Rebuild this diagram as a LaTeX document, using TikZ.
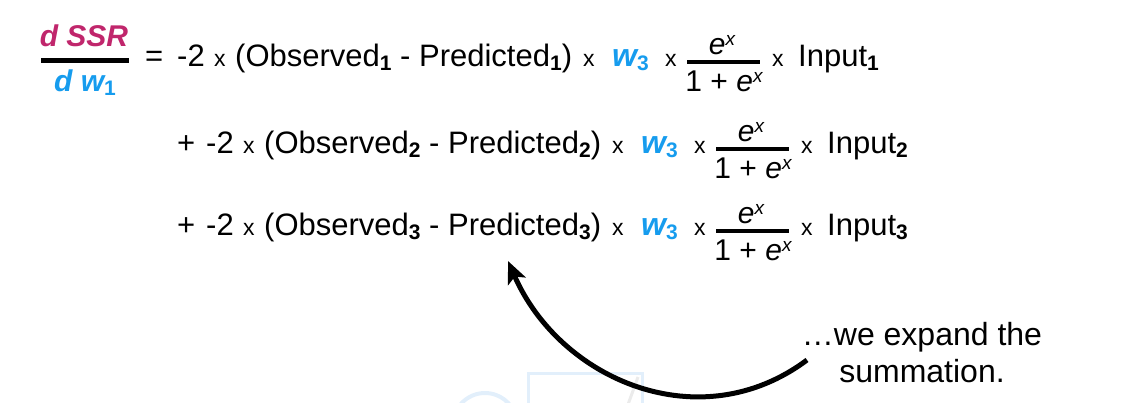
\documentclass[tikz,border=0pt]{standalone}
\usepackage{fontspec}
\setmainfont{Liberation Sans}
\usetikzlibrary{arrows.meta}
\definecolor{ssrpink}{RGB}{192,38,108}
\definecolor{wblue}{RGB}{22,156,238}
\definecolor{logoblue}{RGB}{226,239,251}
\newcommand{\sz}[1]{\fontsize{#1}{#1}\selectfont}
\newcommand{\sbs}[1]{\raisebox{-4pt}{\sz{21}\upshape\bfseries #1}}
\newcommand{\ex}{\textit{e}\raisebox{9pt}{\sz{19}\itshape x}}
\tikzset{txt/.style={inner sep=0pt,anchor=base west,font=\sz{31}},
	tms/.style={inner sep=0pt,anchor=base west,font=\sz{23}},
	fbar/.style={line width=4pt}}
\begin{document}
\begin{tikzpicture}[x=1pt,y=-1pt]
	\useasboundingbox (0,0) rectangle (1121,403);
	%faint logo at the bottom
	\draw[logoblue,line width=3pt] (528,410)--(528,373)--(642,373)--(642,410);
	\draw[black!8,line width=3pt] (638,377)--(626,410);
	\draw[logoblue,line width=4pt] (485,425) ++(-160:32) arc[start angle=-160,end angle=-35,radius=32];
	%left side d SSR / d w1
	\node[inner sep=0pt,anchor=base,font=\sz{30}\bfseries\itshape,text=ssrpink] (dssr) at (84,47) {d SSR};
	\node[inner sep=0pt,anchor=base,font=\sz{30}\bfseries\itshape,text=wblue] (dw) at (85,92) {d w\sbs{1}};
	\draw[line width=5pt] (41,61)--(129,61);
	\node[txt] (eq) at (145,67) {=};
	%the three rows
	\foreach \i/\yb/\dx in {1/67/0,2/154/29,3/236/29}{
		\node[txt] (two\i) at (177+\dx,\yb) {-2};
		\node[tms] (ta\i) at (214+\dx,\yb) {x};
		\node[txt] (obs\i) at (235+\dx,\yb) {(Observed\sbs{\i} - Predicted\sbs{\i})};
		\node[tms] (tb\i) at (583+\dx,\yb) {x};
		\node[txt,font=\sz{32}\bfseries\itshape,text=wblue] (w\i) at (612+\dx,\yb) {w\sbs{3}};
		\node[tms] (tc\i) at (665+\dx,\yb) {x};
		\draw[fbar] (687+\dx,\yb-5)--(760+\dx,\yb-5);
		\node[inner sep=0pt,anchor=base,font=\sz{30}] (enum\i) at (722+\dx,\yb-12) {\ex};
		\node[inner sep=0pt,anchor=base,font=\sz{30}] (eden\i) at (724+\dx,\yb+25) {1 + \ex};
		\node[tms] (td\i) at (772+\dx,\yb) {x};
		\node[txt] (inp\i) at (798+\dx,\yb) {Input\sbs{\i}};
	}
	\foreach \i/\yb in {2/154,3/236}
	\node[txt] (plus\i) at (177,\yb) {+};
	%note and curved arrow
	\node[inner sep=0pt,anchor=base,align=center,font=\fontsize{32}{37}\selectfont] (note) at (922,382) {…we expand the\\summation.};
	\coordinate (from) at (807,360);
	\coordinate (tip) at (508,261);
	\draw[line width=5pt,-{Stealth[length=22pt,width=19pt,inset=5pt]}] (from) .. controls (700,440) and (560,380) .. (tip);
\end{tikzpicture}
\end{document}
